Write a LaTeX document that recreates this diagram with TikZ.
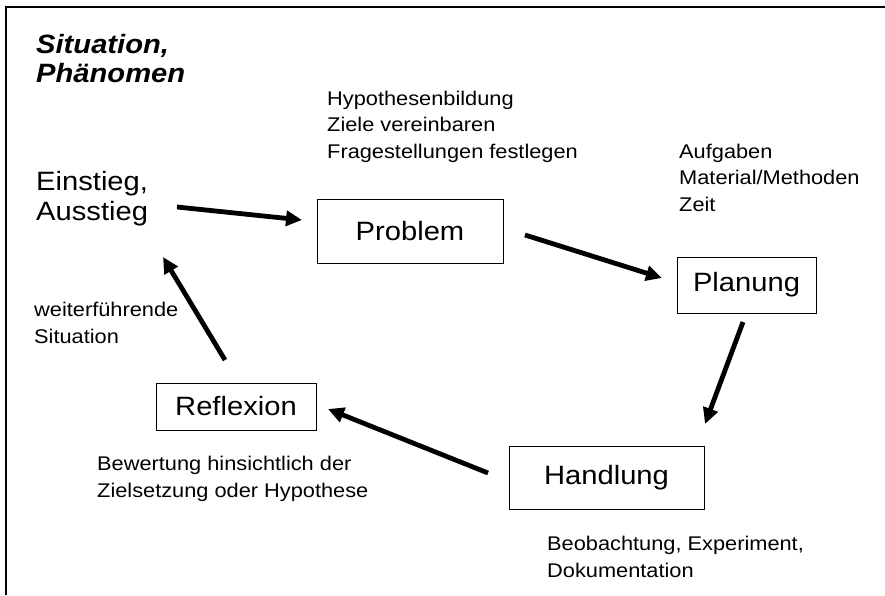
\documentclass[tikz,border=0pt]{standalone}
\usepackage{fontspec}
\setmainfont{Liberation Sans}[FakeStretch=1.1]
\usetikzlibrary{arrows.meta}
\begin{document}
\begin{tikzpicture}[x=1pt,y=-1pt,
  stepbox/.style={draw, line width=0.9pt, inner sep=0pt, font=\fontsize{26.5}{30}\selectfont},
  bigtext/.style={anchor=base west, align=left, inner sep=0pt, font=\fontsize{26.5}{30}\selectfont},
  smalltext/.style={anchor=base west, align=left, inner sep=0pt, font=\fontsize{19.8}{26.5}\selectfont},
  flow/.style={line width=4.8pt, -{Triangle[length=16pt,width=15pt]}}
]
\useasboundingbox (0,0) rectangle (885,595);
\draw[line width=1.5pt] (6,595) -- (6,7) -- (885,7);

% multi-line nodes: base anchor sits on the last line
\node[bigtext, font=\fontsize{26.5}{29}\selectfont\bfseries\itshape] (sit) at (36,82) {Situation,\\Phänomen};
\node[bigtext, font=\fontsize{26.5}{30}\selectfont] (ein) at (36,220) {Einstieg,\\Ausstieg};

\node[stepbox, minimum width=186pt, minimum height=64pt] (problem) at (410,231) {Problem};
\node[stepbox, minimum width=139pt, minimum height=56pt] (planung) at (746.5,285) {Planung};
\node[stepbox, minimum width=195pt, minimum height=63pt] (handlung) at (606.5,477.5) {Handlung};
\node[stepbox, minimum width=160pt, minimum height=47pt] (reflexion) at (236,406.5) {Reflexion};

\node[smalltext] (hyp) at (327,158) {Hypothesenbildung\\Ziele vereinbaren\\Fragestellungen festlegen};
\node[smalltext] (auf) at (679,211) {Aufgaben\\Material/Methoden\\Zeit};
\node[smalltext] (beo) at (547,577) {Beobachtung, Experiment,\\Dokumentation};
\node[smalltext] (bew) at (97,497) {Bewertung hinsichtlich der\\Zielsetzung oder Hypothese};
\node[smalltext] (wei) at (34,343) {weiterführende\\Situation};

\coordinate (a1s) at (177,207); \coordinate (a1e) at (302,220);
\coordinate (a2s) at (525,235); \coordinate (a2e) at (662,278);
\coordinate (a3s) at (743,322); \coordinate (a3e) at (705,424);
\coordinate (a4s) at (488,473); \coordinate (a4e) at (328,409);
\coordinate (a5s) at (225,360); \coordinate (a5e) at (163,257);

\draw[flow] (a1s) -- (a1e);
\draw[flow] (a2s) -- (a2e);
\draw[flow] (a3s) -- (a3e);
\draw[flow] (a4s) -- (a4e);
\draw[flow] (a5s) -- (a5e);
\end{tikzpicture}
\end{document}
